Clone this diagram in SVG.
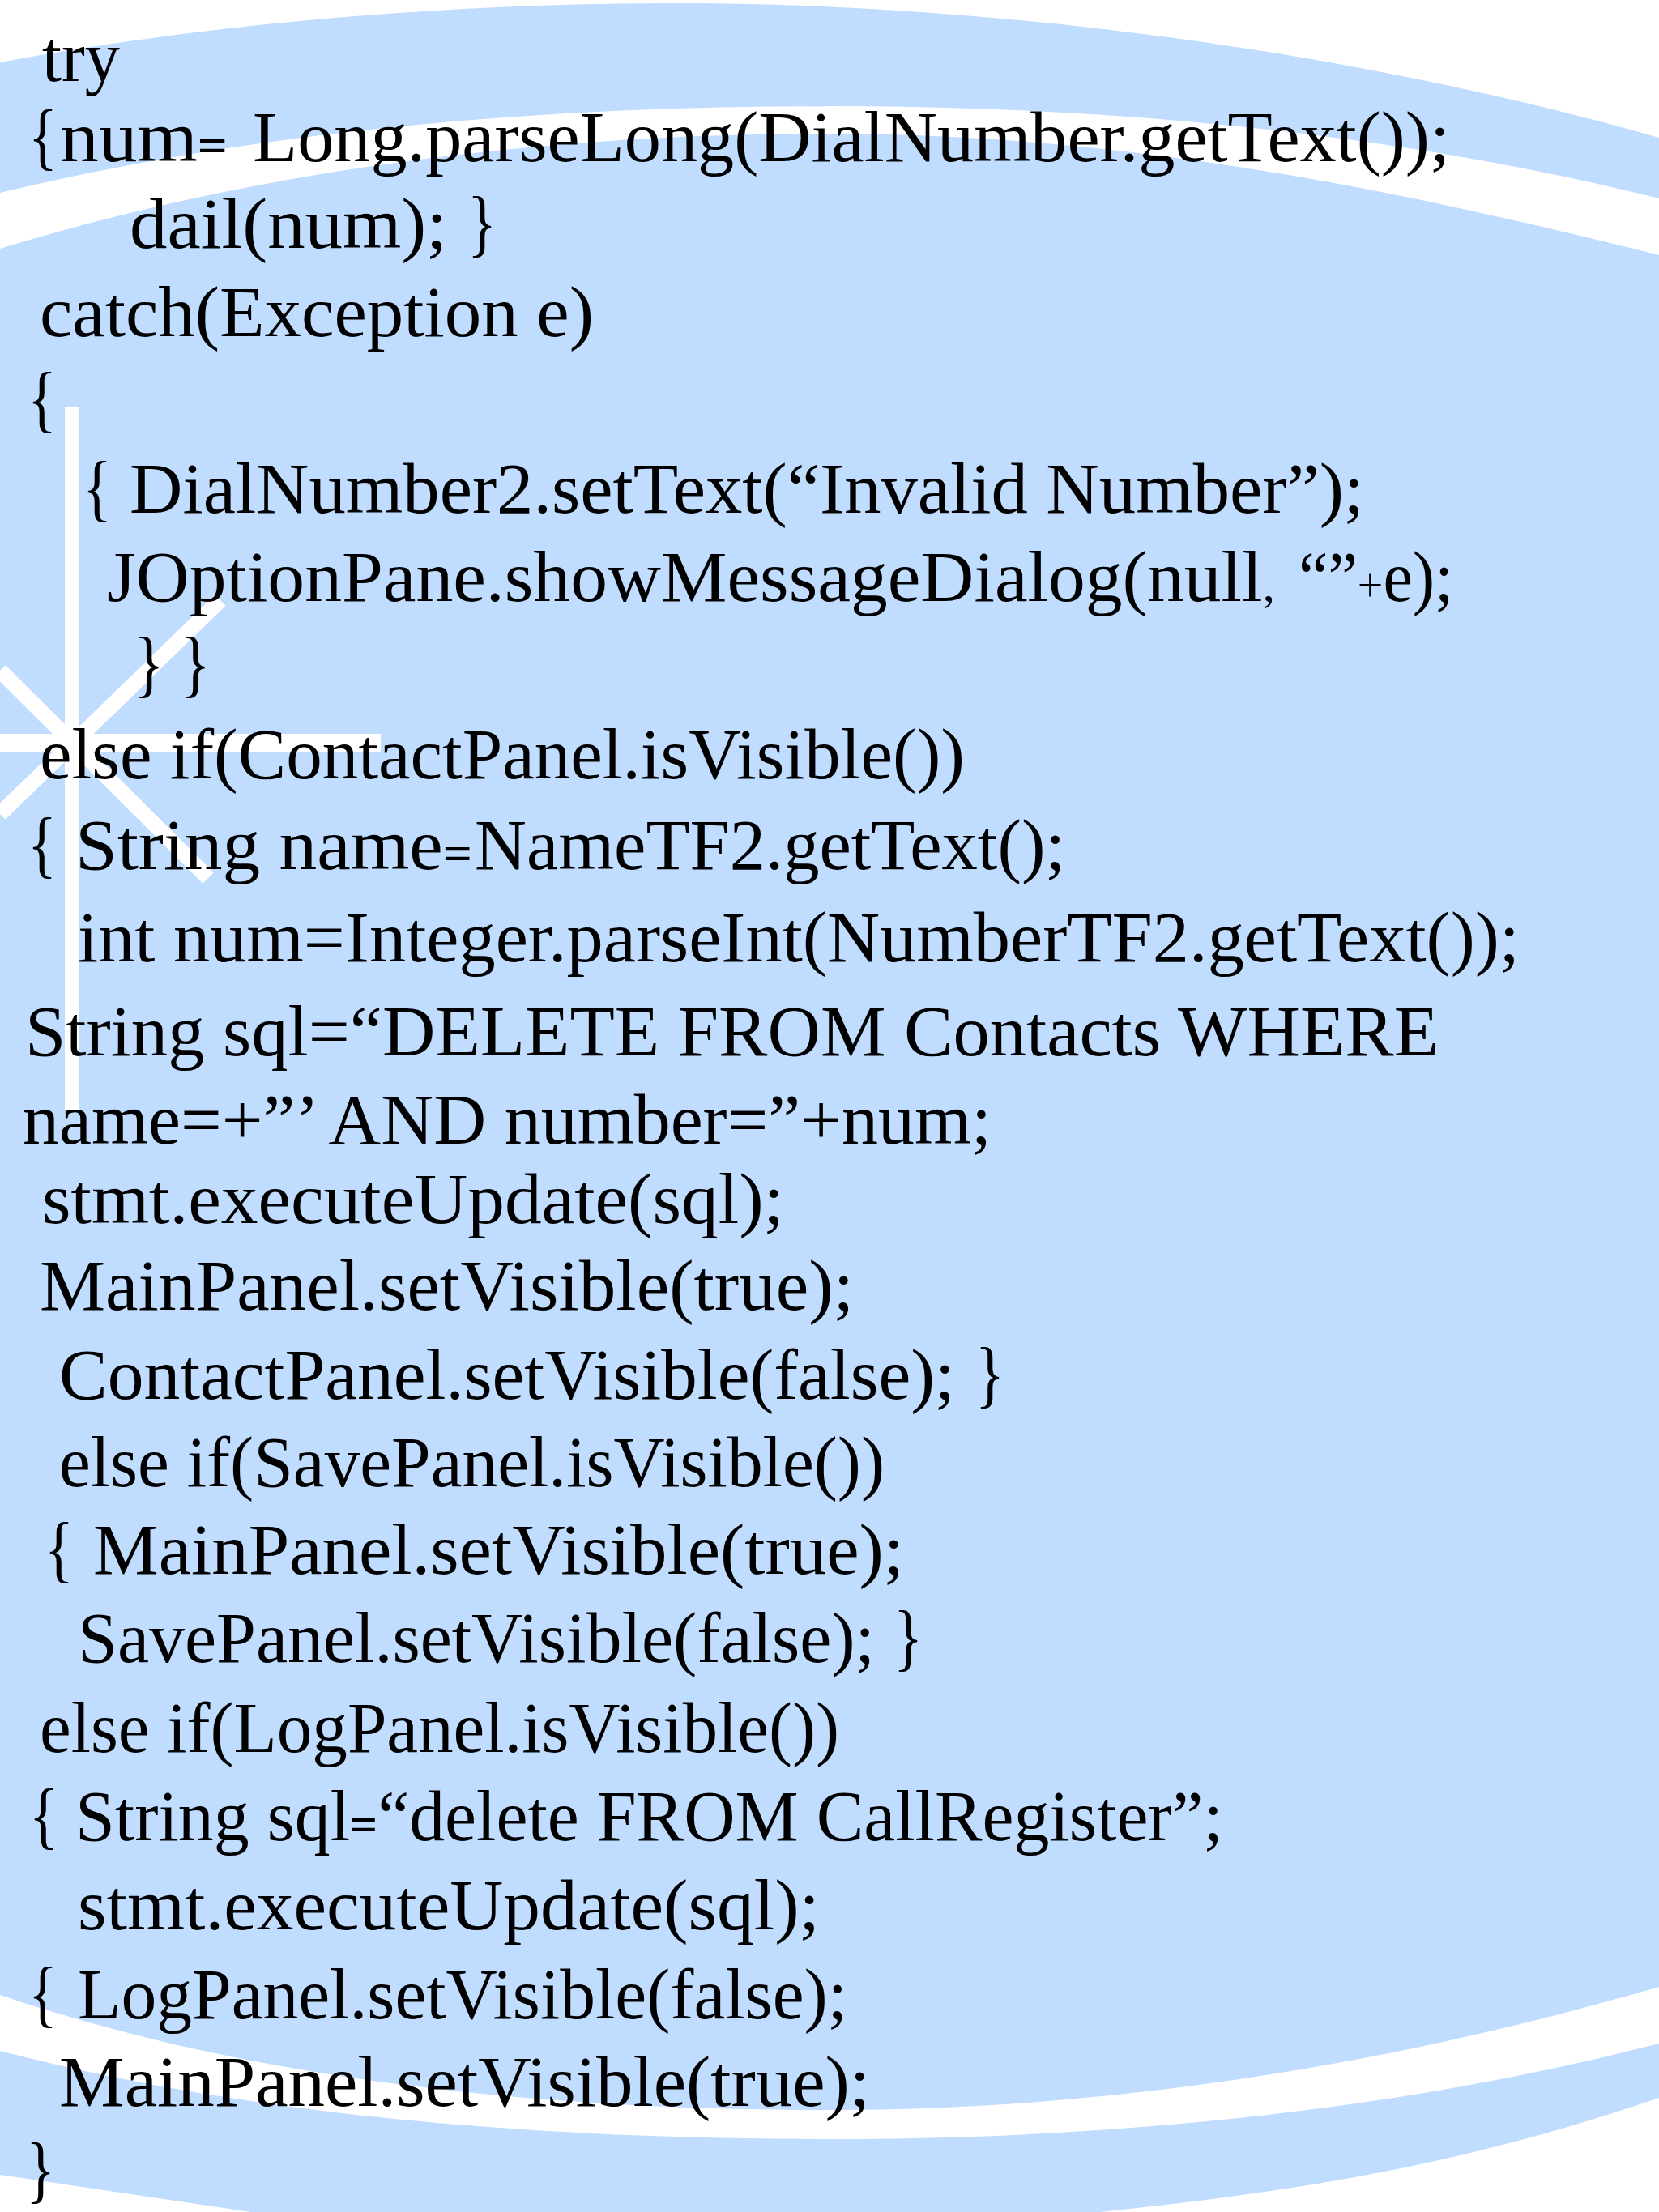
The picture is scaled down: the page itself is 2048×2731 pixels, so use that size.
<svg xmlns="http://www.w3.org/2000/svg" width="2048" height="2731" viewBox="0 0 2048 2731">
<style>
.b{fill:#C0DCFF}
.w{fill:#FFFFFF}
.s{stroke:#FFFFFF;stroke-width:19;fill:none}
text{font-family:"Liberation Serif","Times New Roman",serif;font-size:88px;fill:#000}
.m{font-size:60px}
.e{font-size:60px;font-weight:bold}
.br{font-size:92px}
</style>
<rect width="2048" height="2731" class="w"/>
<g id="background">
<path class="b" d="M0,77 C250,30 550,4 835,4 C1250,4 1700,70 2048,170 L2048,245 C1750,170 1400,131 1024,131 C650,131 300,165 0,238 Z"/>
<path class="b" d="M0,307 C300,215 650,165 1024,165 C1400,165 1750,240 2048,315 L2048,2453 C1750,2540 1400,2605 1024,2605 C650,2605 300,2565 0,2463 Z"/>
<path class="b" d="M0,2532 C300,2610 650,2641 1024,2641 C1400,2641 1750,2600 2048,2523 L2048,2590 C1800,2675 1600,2705 1358,2731 L310,2731 L0,2685 Z"/>
<rect class="w" x="80" y="502" width="18" height="868"/>
<rect class="w" x="0" y="906" width="470" height="23"/>
<path class="s" d="M272,741 L0,1005"/>
<path class="s" d="M0,828 L257,1084"/>
</g>
<g id="code">
<text x="52" y="100" textLength="96" lengthAdjust="spacingAndGlyphs">try</text>
<text class="br" x="35" y="199" textLength="36" lengthAdjust="spacingAndGlyphs">{</text>
<text x="74" y="199" textLength="207" lengthAdjust="spacingAndGlyphs">num<tspan class="e">=</tspan></text>
<text x="312" y="199" textLength="1478" lengthAdjust="spacingAndGlyphs">Long.parseLong(DialNumber.getText());</text>
<text x="160" y="306" textLength="392" lengthAdjust="spacingAndGlyphs">dail(num);</text>
<text class="br" x="577" y="306" textLength="36" lengthAdjust="spacingAndGlyphs">}</text>
<text x="49" y="415" textLength="684" lengthAdjust="spacingAndGlyphs">catch(Exception e)</text>
<text class="br" x="34" y="523" textLength="36" lengthAdjust="spacingAndGlyphs">{</text>
<text class="br" x="102" y="633" textLength="36" lengthAdjust="spacingAndGlyphs">{</text>
<text x="160" y="633" textLength="1524" lengthAdjust="spacingAndGlyphs">DialNumber2.setText(“Invalid Number”);</text>
<text x="132" y="742" textLength="1442" lengthAdjust="spacingAndGlyphs">JOptionPane.showMessageDialog(null<tspan class="m">,</tspan></text>
<text x="1603" y="742" textLength="191" lengthAdjust="spacingAndGlyphs">“”<tspan class="m">+</tspan>e);</text>
<text class="br" x="165" y="850" textLength="95" lengthAdjust="spacingAndGlyphs">} }</text>
<text x="49" y="961" textLength="1142" lengthAdjust="spacingAndGlyphs">else if(ContactPanel.isVisible())</text>
<text class="br" x="34" y="1073" textLength="36" lengthAdjust="spacingAndGlyphs">{</text>
<text x="93" y="1073" textLength="490" lengthAdjust="spacingAndGlyphs">String name<tspan class="e">=</tspan></text>
<text x="586" y="1073" textLength="729" lengthAdjust="spacingAndGlyphs">NameTF2.getText();</text>
<text x="96" y="1187" textLength="1780" lengthAdjust="spacingAndGlyphs">int num=Integer.parseInt(NumberTF2.getText());</text>
<text x="31" y="1303" textLength="1745" lengthAdjust="spacingAndGlyphs">String sql=“DELETE FROM Contacts WHERE</text>
<text x="28" y="1412" textLength="1196" lengthAdjust="spacingAndGlyphs">name=+”’ AND number=”+num;</text>
<text x="52" y="1510" textLength="916" lengthAdjust="spacingAndGlyphs">stmt.executeUpdate(sql);</text>
<text x="49" y="1617" textLength="1005" lengthAdjust="spacingAndGlyphs">MainPanel.setVisible(true);</text>
<text x="73" y="1727" textLength="1106" lengthAdjust="spacingAndGlyphs">ContactPanel.setVisible(false);</text>
<text class="br" x="1204" y="1727" textLength="36" lengthAdjust="spacingAndGlyphs">}</text>
<text x="73" y="1835" textLength="1019" lengthAdjust="spacingAndGlyphs">else if(SavePanel.isVisible())</text>
<text class="br" x="55" y="1943" textLength="36" lengthAdjust="spacingAndGlyphs">{</text>
<text x="115" y="1943" textLength="1001" lengthAdjust="spacingAndGlyphs">MainPanel.setVisible(true);</text>
<text x="96" y="2052" textLength="984" lengthAdjust="spacingAndGlyphs">SavePanel.setVisible(false);</text>
<text class="br" x="1103" y="2052" textLength="36" lengthAdjust="spacingAndGlyphs">}</text>
<text x="49" y="2163" textLength="987" lengthAdjust="spacingAndGlyphs">else if(LogPanel.isVisible())</text>
<text class="br" x="36" y="2272" textLength="36" lengthAdjust="spacingAndGlyphs">{</text>
<text x="93" y="2272" textLength="1417" lengthAdjust="spacingAndGlyphs">String sql<tspan class="e">=</tspan>“delete FROM CallRegister”;</text>
<text x="96" y="2382" textLength="916" lengthAdjust="spacingAndGlyphs">stmt.executeUpdate(sql);</text>
<text class="br" x="35" y="2492" textLength="36" lengthAdjust="spacingAndGlyphs">{</text>
<text x="96" y="2492" textLength="950" lengthAdjust="spacingAndGlyphs">LogPanel.setVisible(false);</text>
<text x="73" y="2600" textLength="1001" lengthAdjust="spacingAndGlyphs">MainPanel.setVisible(true);</text>
<text class="br" x="32" y="2709" textLength="36" lengthAdjust="spacingAndGlyphs">}</text>
</g>
</svg>
